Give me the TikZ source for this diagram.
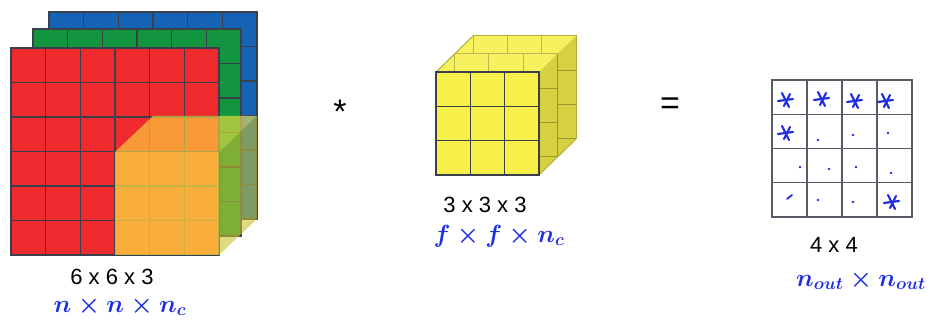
\documentclass[tikz,border=0pt]{standalone}
\usepackage{fontspec}
\setmainfont{Liberation Sans}
\definecolor{cred}{HTML}{EE2A2E}
\definecolor{cgreen}{HTML}{13953F}
\definecolor{cblue}{HTML}{1563B4}
\definecolor{cyel}{HTML}{F7F04A}
\definecolor{cgrid}{HTML}{3A3F4C}
\definecolor{cgridl}{HTML}{B5AD3C}
\definecolor{hblue}{HTML}{1F2FE0}
\definecolor{fyel}{HTML}{FFE640}
\definecolor{fside}{HTML}{C8C030}
\begin{document}
\begin{tikzpicture}[x=1pt,y=-1pt,
  gridline/.style={draw=cgrid,line width=1.4pt},
  lightgrid/.style={draw=cgridl,line width=1pt},
  lbl/.style={font=\fontsize{22}{26}\selectfont, inner sep=0pt},
  oplbl/.style={font=\fontsize{34}{38}\selectfont, inner sep=0pt},
  hand/.style={text=hblue,font=\fontsize{24}{27}\selectfont\boldmath, inner sep=0pt},
  pen/.style={draw=hblue,line width=2.2pt,line cap=round},
  dotmark/.style={fill=hblue}]
\useasboundingbox (0,0) rectangle (946,320);

% ---------- input volume 6x6x3 ----------
\foreach \dx/\dy/\col in {38/-36/cblue, 22/-19/cgreen, 0/0/cred}{
  \begin{scope}[shift={(\dx,\dy)}]
    \fill[\col] (11,48) rectangle (219,255);
    \foreach \i in {1,...,5}{
      \draw[gridline] ({11+\i*208/6},48) -- ({11+\i*208/6},255);
      \draw[gridline] (11,{48+\i*207/6}) -- (219,{48+\i*207/6});
    }
    \draw[gridline] (11,48) rectangle (219,255);
  \end{scope}
}
% translucent filter overlay
\fill[fyel, fill opacity=0.7] (115,152) rectangle (219,255);
\fill[fyel, fill opacity=0.6] (115,152) -- (153,116) -- (257,116) -- (219,152) -- cycle;
\fill[fside, fill opacity=0.6] (219,152) -- (257,116) -- (257,219) -- (219,255) -- cycle;

% ---------- filter 3x3x3 ----------
\fill[cyel] (436,72) -- (473,36) -- (576,36) -- (576,139) -- (539,175) -- (436,175) -- cycle;
\foreach \dx/\dy in {37/-36, 18.5/-18}{
  \begin{scope}[shift={(\dx,\dy)}]
    \fill[cyel] (436,72) rectangle (539,175);
    \foreach \i in {1,2}{
      \draw[lightgrid] ({436+\i*103/3},72) -- ({436+\i*103/3},175);
      \draw[lightgrid] (436,{72+\i*103/3}) -- (539,{72+\i*103/3});
    }
    \draw[lightgrid] (436,72) rectangle (539,175);
  \end{scope}
}
\fill[black, fill opacity=0.13] (539,72) -- (576,36) -- (576,139) -- (539,175) -- cycle;
\fill[white, fill opacity=0.12] (436,72) -- (473,36) -- (576,36) -- (539,72) -- cycle;
\draw[lightgrid] (436,72) -- (473,36);
\draw[lightgrid] (539,175) -- (576,139);
\fill[cyel] (436,72) rectangle (539,175);
\foreach \i in {1,2}{
  \draw[gridline] ({436+\i*103/3},72) -- ({436+\i*103/3},175);
  \draw[gridline] (436,{72+\i*103/3}) -- (539,{72+\i*103/3});
}
\draw[gridline] (436,72) rectangle (539,175);

% ---------- output 4x4 ----------
\foreach \i in {1,2,3}{
  \draw[gridline,draw=cgrid!85] ({772+\i*35},80) -- ({772+\i*35},217);
  \draw[gridline,draw=cgrid!85] (772,{80+\i*137/4}) -- (912,{80+\i*137/4});
}
\draw[gridline,draw=cgrid!85] (772,80) rectangle (912,217);

% handwritten crosses
\foreach \x/\y in {786/100, 822/99, 855/101, 886/101, 786/133, 892/202}{
  \draw[pen] (\x-8,\y+1) -- (\x+7,\y-1);
  \draw[pen] (\x-4,\y-7) -- (\x+3,\y+7);
  \draw[pen] (\x+4,\y-6) -- (\x-2,\y+6);
}
% dots
\foreach \x/\y in {818/140, 853/135, 888/133, 800/167, 829/169, 856/167, 891/173, 818/200, 853/202}{
  \fill[dotmark] (\x,\y) circle (1.4);
}
\draw[pen,line width=1.8pt] (787,199) -- (792,195);

% ---------- operators ----------
\node[oplbl] (star) at (340,112) {*};
\node[oplbl] (eq) at (670,106) {=};

% ---------- labels ----------
\node[lbl] (inlbl) at (112,277) {6 x 6 x 3};
\node[hand] (inhand) at (120,306) {$n \times n \times n_c$};
\node[lbl] (flbl) at (485,205) {3 x 3 x 3};
\node[hand,font=\fontsize{23}{26}\selectfont\boldmath] (fhand) at (499,236) {$f \times f \times n_c$};
\node[lbl] (outlbl) at (834,245) {4 x 4};
\node[hand] (outhand) at (861,280) {$n_{out} \times n_{out}$};
\end{tikzpicture}
\end{document}
